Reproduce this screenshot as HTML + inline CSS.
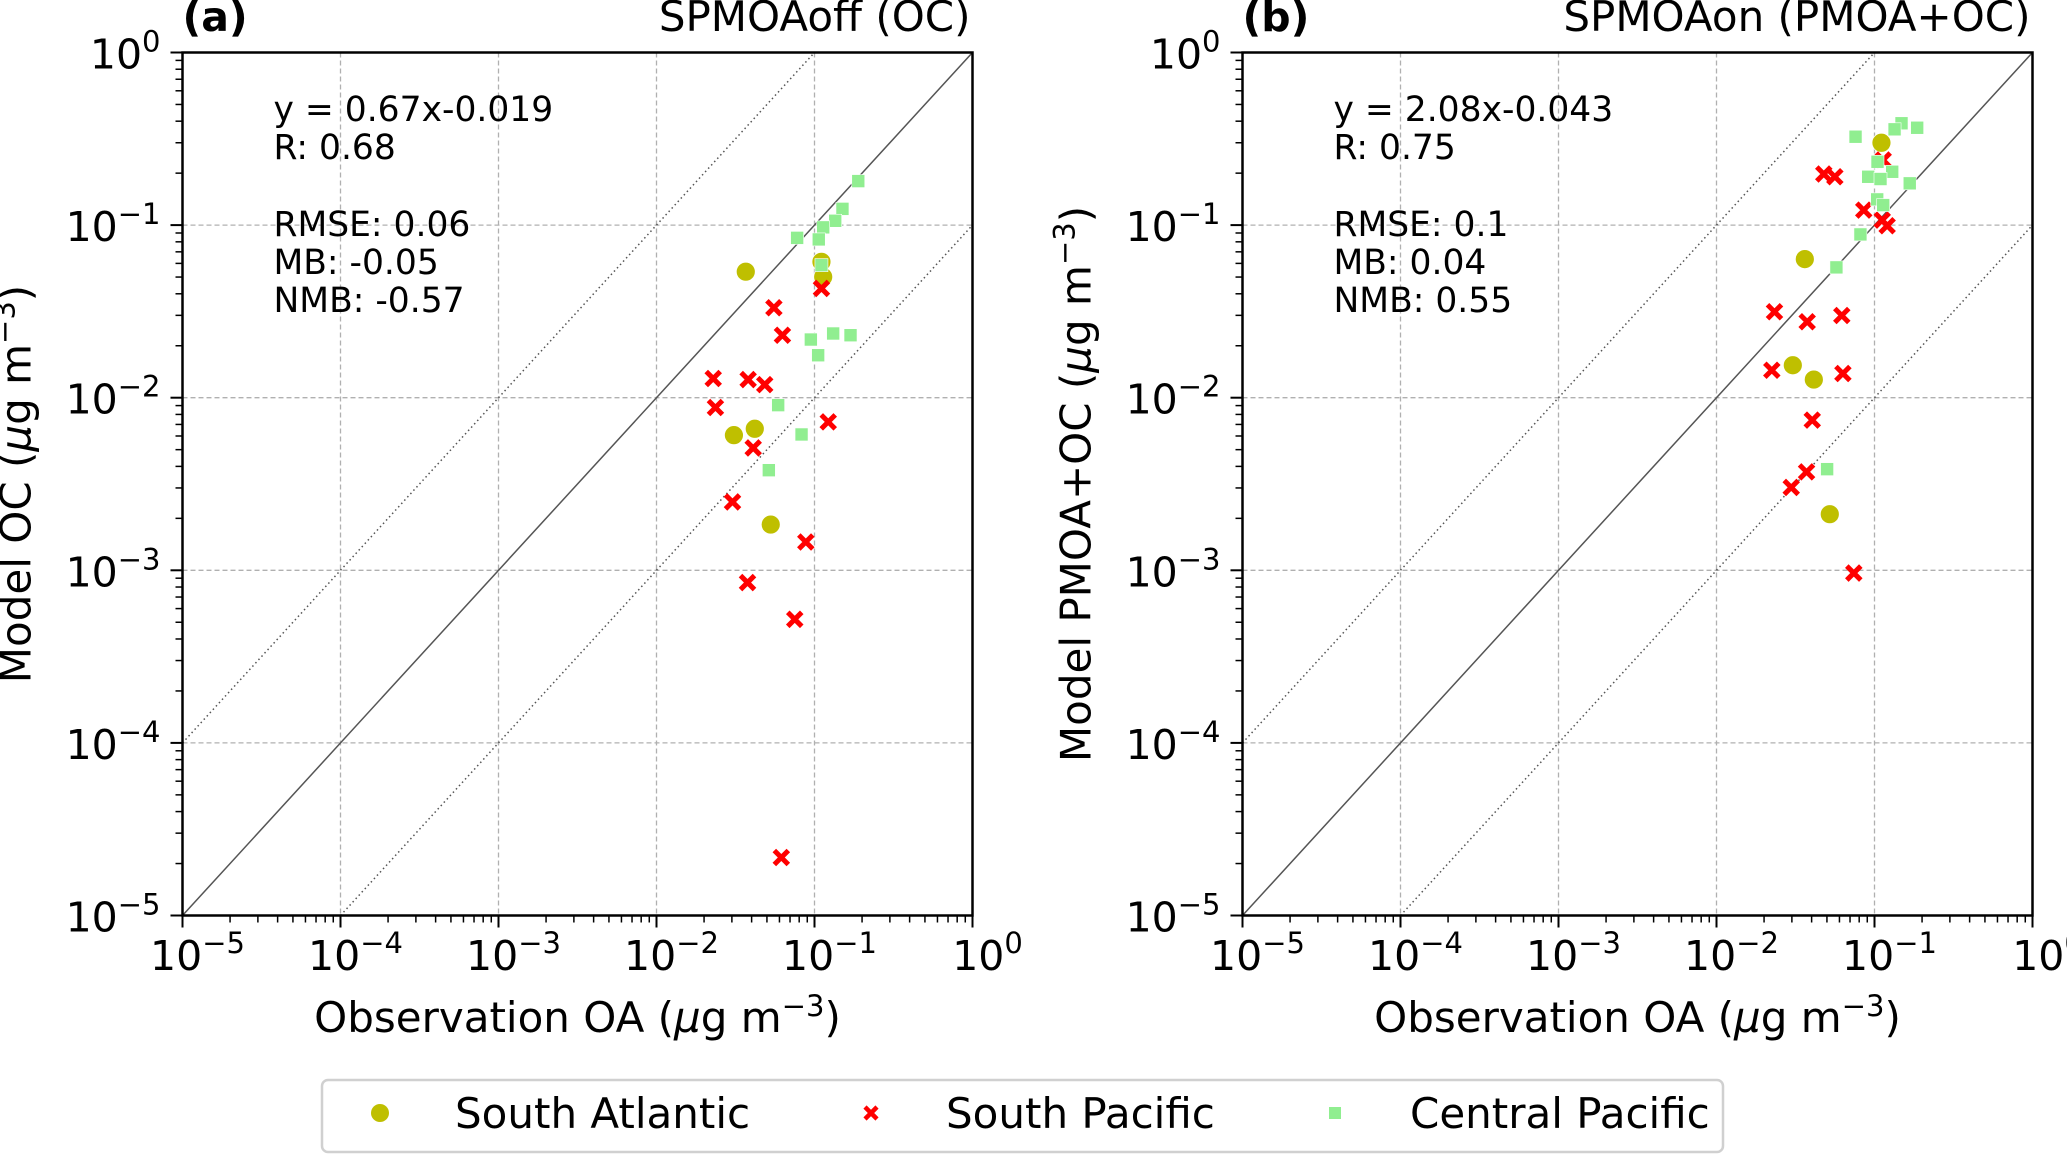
<!DOCTYPE html>
<html><head><meta charset="utf-8">
<style>
html,body{margin:0;padding:0;background:#fff;}
svg{display:block;font-family:"DejaVu Sans","Liberation Sans",sans-serif;}
</style></head>
<body>
<svg id="chart" width="2067" height="1155" viewBox="0 0 2067 1155" xmlns="http://www.w3.org/2000/svg"></svg>
<script>
// Panel (a) data: log10 values
const atlA_x = [-1.435,-1.51,-1.378,-1.277,-0.956,-0.945];
const atlA_y = [-1.27,-2.217,-2.18,-2.735,-1.213,-1.30];
const pacA_x = [-1.257,-1.203,-0.956,-1.641,-1.42,-1.315,-1.627,-0.913,-1.388,-1.519,-1.055,-1.424,-1.125,-1.21];
const pacA_y = [-1.479,-1.638,-1.367,-1.889,-1.895,-1.924,-2.057,-2.14,-2.291,-2.604,-2.836,-3.071,-3.284,-4.664];
const cenA_x = [-0.723,-0.823,-0.869,-0.945,-1.11,-0.973,-0.956,-0.882,-0.772,-1.023,-0.977,-1.23,-1.082,-1.289];
const cenA_y = [-0.745,-0.906,-0.975,-1.013,-1.074,-1.083,-1.232,-1.628,-1.638,-1.663,-1.754,-2.043,-2.213,-2.42];
// Panel (b) data
const atlB_x = [-0.956,-1.441,-1.517,-1.384,-1.283];
const atlB_y = [-0.523,-1.197,-1.812,-1.895,-2.675];
const pacB_x = [-1.321,-1.251,-1.068,-0.951,-0.92,-1.633,-1.426,-1.207,-1.65,-1.2,-1.394,-1.43,-1.527,-1.131,-0.945];
const pacB_y = [-0.704,-0.72,-0.913,-0.971,-1.004,-1.502,-1.56,-1.524,-1.841,-1.86,-2.13,-2.43,-2.52,-3.016,-0.623];
const cenB_x = [-0.829,-0.73,-0.873,-1.12,-0.981,-0.888,-1.04,-0.962,-0.777,-0.983,-0.945,-1.089,-1.241,-1.3];
const cenB_y = [-0.41,-0.436,-0.445,-0.488,-0.633,-0.691,-0.72,-0.733,-0.758,-0.851,-0.884,-1.054,-1.245,-2.414];
const tickExps = [-5,-4,-3,-2,-1,0];
const statsA = ["y = 0.67x-0.019","R: 0.68","","RMSE: 0.06","MB: -0.05","NMB: -0.57"];
const statsB = ["y = 2.08x-0.043","R: 0.75","","RMSE: 0.1","MB: 0.04","NMB: 0.55"];

const NS="http://www.w3.org/2000/svg";
const svg=document.getElementById('chart');
function mk(tag,attrs,parent){const e=document.createElementNS(NS,tag);for(const k in attrs)e.setAttribute(k,attrs[k]);(parent||svg).appendChild(e);return e;}

function panel(id,left,label,title,ylab,stats,atlX,atlY,pacX,pacY,cenX,cenY){
  const top=52.5,bottom=915.5,right=left+790;
  const sx=v=>left+(v+5)*(right-left)/5;
  const sy=v=>bottom-(v+5)*(bottom-top)/5;
  const g=mk('g',{});
  
  
  const cp=mk('clipPath',{id:'clip'+id},g);
  mk('rect',{x:left,y:top,width:right-left,height:bottom-top},cp);
  tickExps.forEach(e=>{
    if(e>-5&&e<0){
      const gl=mk('line',{x1:sx(e),x2:sx(e),y1:top,y2:bottom,stroke:'#b0b0b0','stroke-width':1.3,'stroke-dasharray':'5,3'},g);
      
      
      const gh=mk('line',{x1:left,x2:right,y1:sy(e),y2:sy(e),stroke:'#b0b0b0','stroke-width':1.3,'stroke-dasharray':'5,3'},g);
      
      
    }
  });
  const ref=mk('g',{'clip-path':'url(#clip'+id+')'},g);
  const l1=mk('line',{x1:sx(-5),y1:sy(-5),x2:sx(0),y2:sy(0),stroke:'#555','stroke-width':1.5},ref);
  
  
  const l2=mk('line',{x1:sx(-5),y1:sy(-4),x2:sx(0),y2:sy(1),stroke:'#555','stroke-width':1.5,'stroke-dasharray':'1.5,3'},ref);
  
  
  const l3=mk('line',{x1:sx(-4),y1:sy(-5),x2:sx(1),y2:sy(0),stroke:'#555','stroke-width':1.5,'stroke-dasharray':'1.5,3'},ref);
  
  
  const pts=mk('g',{},g);
  atlX.forEach((v,i)=>{
    const c=mk('circle',{cx:sx(v),cy:sy(atlY[i]),r:9.5,fill:'#bfbf00',stroke:'#fff','stroke-width':0.8},pts);
    
    
  });
  pacX.forEach((v,i)=>{
    const x=sx(v),y=sy(pacY[i]),d=7;
    const p=mk('path',{d:`M${x-d},${y-d}L${x+d},${y+d}M${x-d},${y+d}L${x+d},${y-d}`,stroke:'#ff0000','stroke-width':5},pts);
    
    
  });
  cenX.forEach((v,i)=>{
    const r=mk('rect',{x:sx(v)-6.5,y:sy(cenY[i])-6.5,width:13,height:13,fill:'#90ee90',stroke:'#fff','stroke-width':0.6},pts);
    
    
  });
  const fr=mk('rect',{x:left,y:top,width:right-left,height:bottom-top,fill:'none',stroke:'#000','stroke-width':2.5},g);
  
  
  tickExps.forEach(e=>{
    mk('line',{x1:sx(e),x2:sx(e),y1:bottom,y2:bottom+12,stroke:'#000','stroke-width':2},g);
    mk('line',{x1:left,x2:left-12,y1:sy(e),y2:sy(e),stroke:'#000','stroke-width':2},g);
    if(e<0){for(let k=2;k<10;k++){const m=e+Math.log10(k);
      mk('line',{x1:sx(m),x2:sx(m),y1:bottom,y2:bottom+7,stroke:'#000','stroke-width':1.5},g);
      mk('line',{x1:left,x2:left-7,y1:sy(m),y2:sy(m),stroke:'#000','stroke-width':1.5},g);}}
    const tx=mk('text',{x:sx(e)+15,y:970,'font-size':41,'text-anchor':'middle'},g);
    tx.innerHTML='10<tspan font-size="29" dy="-17">'+(e<0?'\u2212'+(-e):'0')+'</tspan>';
    
    
    const ty=mk('text',{x:left-22,y:sy(e)+16,'font-size':41,'text-anchor':'end'},g);
    ty.innerHTML='10<tspan font-size="29" dy="-17">'+(e<0?'\u2212'+(-e):'0')+'</tspan>';
    
    
  });
  const base=[121,159,197,236,274,312];
  stats.forEach((s,i)=>{ if(!s)return;
    const t=mk('text',{x:left+91,y:base[i],'font-size':34.5},g);t.textContent=s;
    
    
  });
  const tl=mk('text',{x:left,y:31,'font-size':41,'font-weight':'bold'},g);tl.textContent=label;
  
  
  const tt=mk('text',{x:right-2,y:31,'font-size':42,'text-anchor':'end'},g);tt.textContent=title;
  
  
  const xl=mk('text',{x:(left+right)/2,y:1032,'font-size':42,'text-anchor':'middle'},g);
  xl.innerHTML='Observation OA (<tspan font-style="italic">\u03bc</tspan>g m<tspan font-size="29" dy="-16">\u22123</tspan><tspan dy="16">)</tspan>';
  
  
  const cy=(top+bottom)/2, cx=left-152;
  const yl=mk('text',{x:cx,y:cy,'font-size':42,'text-anchor':'middle',transform:`rotate(-90 ${cx} ${cy})`},g);
  yl.innerHTML=ylab+' (<tspan font-style="italic">\u03bc</tspan>g m<tspan font-size="29" dy="-16">\u22123</tspan><tspan dy="16">)</tspan>';
  
  
}
panel('a',182.5,'(a)','SPMOAoff (OC)','Model OC',statsA,atlA_x,atlA_y,pacA_x,pacA_y,cenA_x,cenA_y);
panel('b',1242.5,'(b)','SPMOAon (PMOA+OC)','Model PMOA+OC',statsB,atlB_x,atlB_y,pacB_x,pacB_y,cenB_x,cenB_y);

const lg=mk('g',{});


mk('rect',{x:322,y:1080,width:1401,height:72,rx:6,fill:'#fff',stroke:'#d0d0d0','stroke-width':2.5},lg);
const e1=mk('circle',{cx:380,cy:1113,r:9,fill:'#bfbf00'},lg);


const e2=mk('path',{d:'M865,1107L877,1119M865,1119L877,1107',stroke:'#ff0000','stroke-width':4.5},lg);


const e3=mk('rect',{x:1329,y:1107,width:12,height:12,fill:'#90ee90'},lg);


[['South Atlantic',455],['South Pacific',946],['Central Pacific',1410]].forEach(a=>{
  const t=mk('text',{x:a[1],y:1128,'font-size':42},lg);t.textContent=a[0];
  
  
});
</script>
</body></html>
